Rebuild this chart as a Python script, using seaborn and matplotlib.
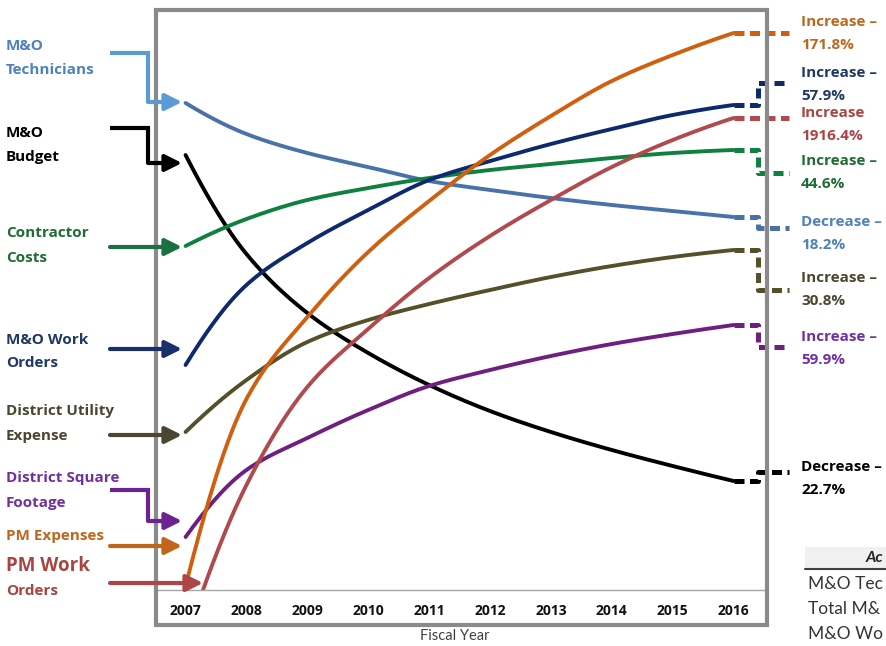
import numpy as np
import pandas as pd
import matplotlib
matplotlib.use("Agg")
import matplotlib.pyplot as plt
from matplotlib.patches import Rectangle
import seaborn as sns

# ---------------- data (index height of each curve) ----------------
years = [2007, 2008, 2009, 2010, 2011, 2012, 2013, 2014, 2015, 2016]
mo_technicians = [487, 456, 437, 423, 409, 400, 392, 385, 379, 373]
mo_budget = [435, 336, 277, 237, 205, 179, 158, 140, 124, 109]
contractor_costs = [344, 371, 390, 402, 412, 420, 426, 432, 437, 440]
mo_work_orders = [225, 305, 347, 380, 410, 429, 446, 461, 475, 485]
utility_expense = [158, 210, 248, 270, 286, 300, 313, 324, 333, 340]
square_footage = [53, 120, 152, 180, 204, 220, 234, 246, 256, 265]
pm_expenses = [4, 191, 273, 338, 389, 435, 474, 509, 535, 557]
pm_work_orders = [-51, 105, 203, 261, 312, 354, 390, 423, 450, 472]

series_names = ["M&O Technicians", "M&O Budget", "Contractor Costs", "M&O Work Orders",
                "District Utility Expense", "District Square Footage", "PM Expenses",
                "PM Work Orders"]
series_values = [mo_technicians, mo_budget, contractor_costs, mo_work_orders,
                 utility_expense, square_footage, pm_expenses, pm_work_orders]
left_labels = [["M&O", "Technicians"], ["M&O", "Budget"], ["Contractor", "Costs"],
               ["M&O Work", "Orders"], ["District Utility", "Expense"],
               ["District Square", "Footage"], ["PM Expenses"], ["PM Work", "Orders"]]
change_word = ["Decrease \u2013", "Decrease \u2013", "Increase \u2013", "Increase \u2013",
               "Increase \u2013", "Increase \u2013", "Increase \u2013", "Increase"]
change_pct = ["18.2%", "22.7%", "44.6%", "57.9%", "30.8%", "59.9%", "171.8%", "1916.4%"]
table_header = ["Ac"]
table_rows = ["M&O Tec", "Total M&", "M&O Wo"]
x_title = "Fiscal Year"

# ---------------- styles ----------------
line_colors = ["#4a72aa", "#000000", "#0f8040", "#0d2a6e", "#54502a", "#6f1f7f", "#d0600f", "#b04a4c"]
text_colors = ["#4f81bd", "#000000", "#1e6b35", "#1f3864", "#4a4630", "#7030a0", "#c0661c", "#a94442"]
arrow_colors = ["#5b9bd5", "#000000", "#1a7040", "#1a2f6e", "#4a4630", "#6a2390", "#c0661c", "#b04548"]

W, H = 886, 646
sns.set_style("white")
plt.rcParams["font.family"] = ["Lato", "DejaVu Sans"]
LABEL_FONT = ["Open Sans", "DejaVu Sans"]

fig = plt.figure(figsize=(W / 100, H / 100), dpi=100)

X0, DX = 185.9, 61.65       # pixel of 2007, pixels per year
AX_BOTTOM = 590


def px2yr(px):
    return 2007 + (px - X0) / DX


def py2v(py):
    return AX_BOTTOM - py


ax = fig.add_axes([158 / W, (H - AX_BOTTOM) / H, (764 - 158) / W, (AX_BOTTOM - 12) / H])
ax.set_xlim(px2yr(158), px2yr(764))
ax.set_ylim(0, AX_BOTTOM - 12)


def smooth(xs, ys, n=40):
    """Monotone cubic (PCHIP) rendering of the series, like a smoothed line."""
    x = np.asarray(xs, float)
    y = np.asarray(ys, float)
    h = np.diff(x)
    d = np.diff(y) / h
    m = np.zeros_like(y)
    for k in range(1, len(y) - 1):
        if d[k - 1] * d[k] > 0:
            w1 = 2 * h[k] + h[k - 1]
            w2 = h[k] + 2 * h[k - 1]
            m[k] = (w1 + w2) / (w1 / d[k - 1] + w2 / d[k])
    m0 = ((2 * h[0] + h[1]) * d[0] - h[0] * d[1]) / (h[0] + h[1])
    if np.sign(m0) != np.sign(d[0]):
        m0 = 0
    m[0] = m0
    mn = ((2 * h[-1] + h[-2]) * d[-1] - h[-1] * d[-2]) / (h[-1] + h[-2])
    if np.sign(mn) != np.sign(d[-1]):
        mn = 0
    m[-1] = mn
    xo, yo = [], []
    for k in range(len(x) - 1):
        t = np.linspace(0, 1, n, endpoint=(k == len(x) - 2))
        h00 = 2 * t ** 3 - 3 * t ** 2 + 1
        h10 = t ** 3 - 2 * t ** 2 + t
        h01 = -2 * t ** 3 + 3 * t ** 2
        h11 = t ** 3 - t ** 2
        xo.append(x[k] + t * h[k])
        yo.append(h00 * y[k] + h10 * h[k] * m[k] + h01 * y[k + 1] + h11 * h[k] * m[k + 1])
    return np.concatenate(xo), np.concatenate(yo)


for name, vals, col in zip(series_names, series_values, line_colors):
    sx, sy = smooth(years, vals)
    df = pd.DataFrame({"year": sx, "value": sy})
    sns.lineplot(data=df, x="year", y="value", ax=ax, color=col, lw=2.8,
                 sort=False, estimator=None, solid_capstyle="round")

ax.set_xlabel("")
ax.set_ylabel("")
ax.set_yticks([])
ax.set_xticks(years)
ax.set_xticklabels([str(y) for y in years], fontsize=10, fontweight="bold", color="#111111",
                   family=LABEL_FONT)
ax.set_xticks([y + 0.5 for y in years], minor=True)
ax.tick_params(axis="x", which="major", length=0, pad=10)
ax.tick_params(axis="x", which="minor", length=5, width=1, color="#a0a0a0", direction="out")
for s in ["left", "right", "top"]:
    ax.spines[s].set_visible(False)
ax.spines["bottom"].set_color("#a6a6a6")
ax.spines["bottom"].set_linewidth(1)
ax.patch.set_alpha(0)

# ---------------- right-hand connectors and labels ----------------
bend_py = [228, 472, 173, 83, 290, 347, 33, 118]
text_py = [222, 467, 161, 73, 278, 337, 22, 113]
for i, vals in enumerate(series_values):
    col = line_colors[i]
    v_end = vals[-1]
    v_bend = py2v(bend_py[i])
    xs = [years[-1], px2yr(766), px2yr(766), px2yr(797)]
    ys = [v_end, v_end, v_bend, v_bend]
    ax.plot(xs, ys, color=col, lw=3.6, linestyle=(0, (2.0, 1.1)), clip_on=False,
            solid_joinstyle="miter")
    ty = text_py[i]
    fig.text(801 / W, 1 - ty / H, change_word[i], color=text_colors[i], fontsize=11,
             fontweight="bold", va="center", ha="left", family=LABEL_FONT)
    fig.text(801 / W, 1 - (ty + 23) / H, change_pct[i], color=text_colors[i], fontsize=11,
             fontweight="bold", va="center", ha="left", family=LABEL_FONT)

# ---------------- overlay in pixel coordinates ----------------
ov = fig.add_axes([0, 0, 1, 1], zorder=5)
ov.set_xlim(0, W)
ov.set_ylim(H, 0)
ov.axis("off")
ov.patch.set_alpha(0)

fig.add_artist(Rectangle((156 / W, 1 - 625 / H), (767 - 156) / W, (625 - 10) / H,
                         transform=fig.transFigure, fill=False, edgecolor="#8a8a8a", lw=3))

label_py = [(46, 70), (133, 157), (233, 258), (340, 363), (411, 436), (478, 503), (536,), (566, 591)]
arrow_paths = [
    [(110, 53), (148, 53), (148, 102), (182, 102)],
    [(110, 128), (148, 128), (148, 163), (182, 163)],
    [(110, 247), (182, 247)],
    [(110, 349), (182, 349)],
    [(110, 435), (182, 435)],
    [(110, 490), (148, 490), (148, 521), (182, 521)],
    [(110, 546), (182, 546)],
    [(110, 583), (203, 583)],
]
for i in range(len(series_names)):
    for j, txt in enumerate(left_labels[i]):
        fs = 13.5 if (i == 7 and j == 0) else 11
        ov.text(6, label_py[i][j], txt, color=text_colors[i], fontsize=fs, fontweight="bold",
                va="center", ha="left", family=LABEL_FONT)
    path = arrow_paths[i]
    c = arrow_colors[i]
    if len(path) > 2:
        ov.plot([p[0] for p in path[:-1]], [p[1] for p in path[:-1]], color=c, lw=3,
                solid_joinstyle="miter", solid_capstyle="butt")
    ov.annotate("", xy=path[-1], xytext=path[-2],
                arrowprops=dict(arrowstyle="-|>,head_length=0.5,head_width=0.25", color=c,
                                lw=3, shrinkA=0, shrinkB=0, mutation_scale=20))

ov.text(455, 636, x_title, fontsize=10.5, color="#404040", ha="center", va="center")

# fragment of a neighbouring table
ov.add_patch(Rectangle((805, 547), 90, 21, facecolor="#f0f0f0", edgecolor="none"))
ov.plot([805, 886], [569, 569], color="#404040", lw=1.5)
ov.text(866, 558, table_header[0], fontsize=11.5, fontweight="bold", fontstyle="italic",
        color="#222222", va="center", ha="left")
for k, r in enumerate(table_rows):
    ov.text(808, 584 + 25 * k, r, fontsize=12.5, color="#333333", va="center", ha="left")

fig.savefig("out.png", dpi=100)
